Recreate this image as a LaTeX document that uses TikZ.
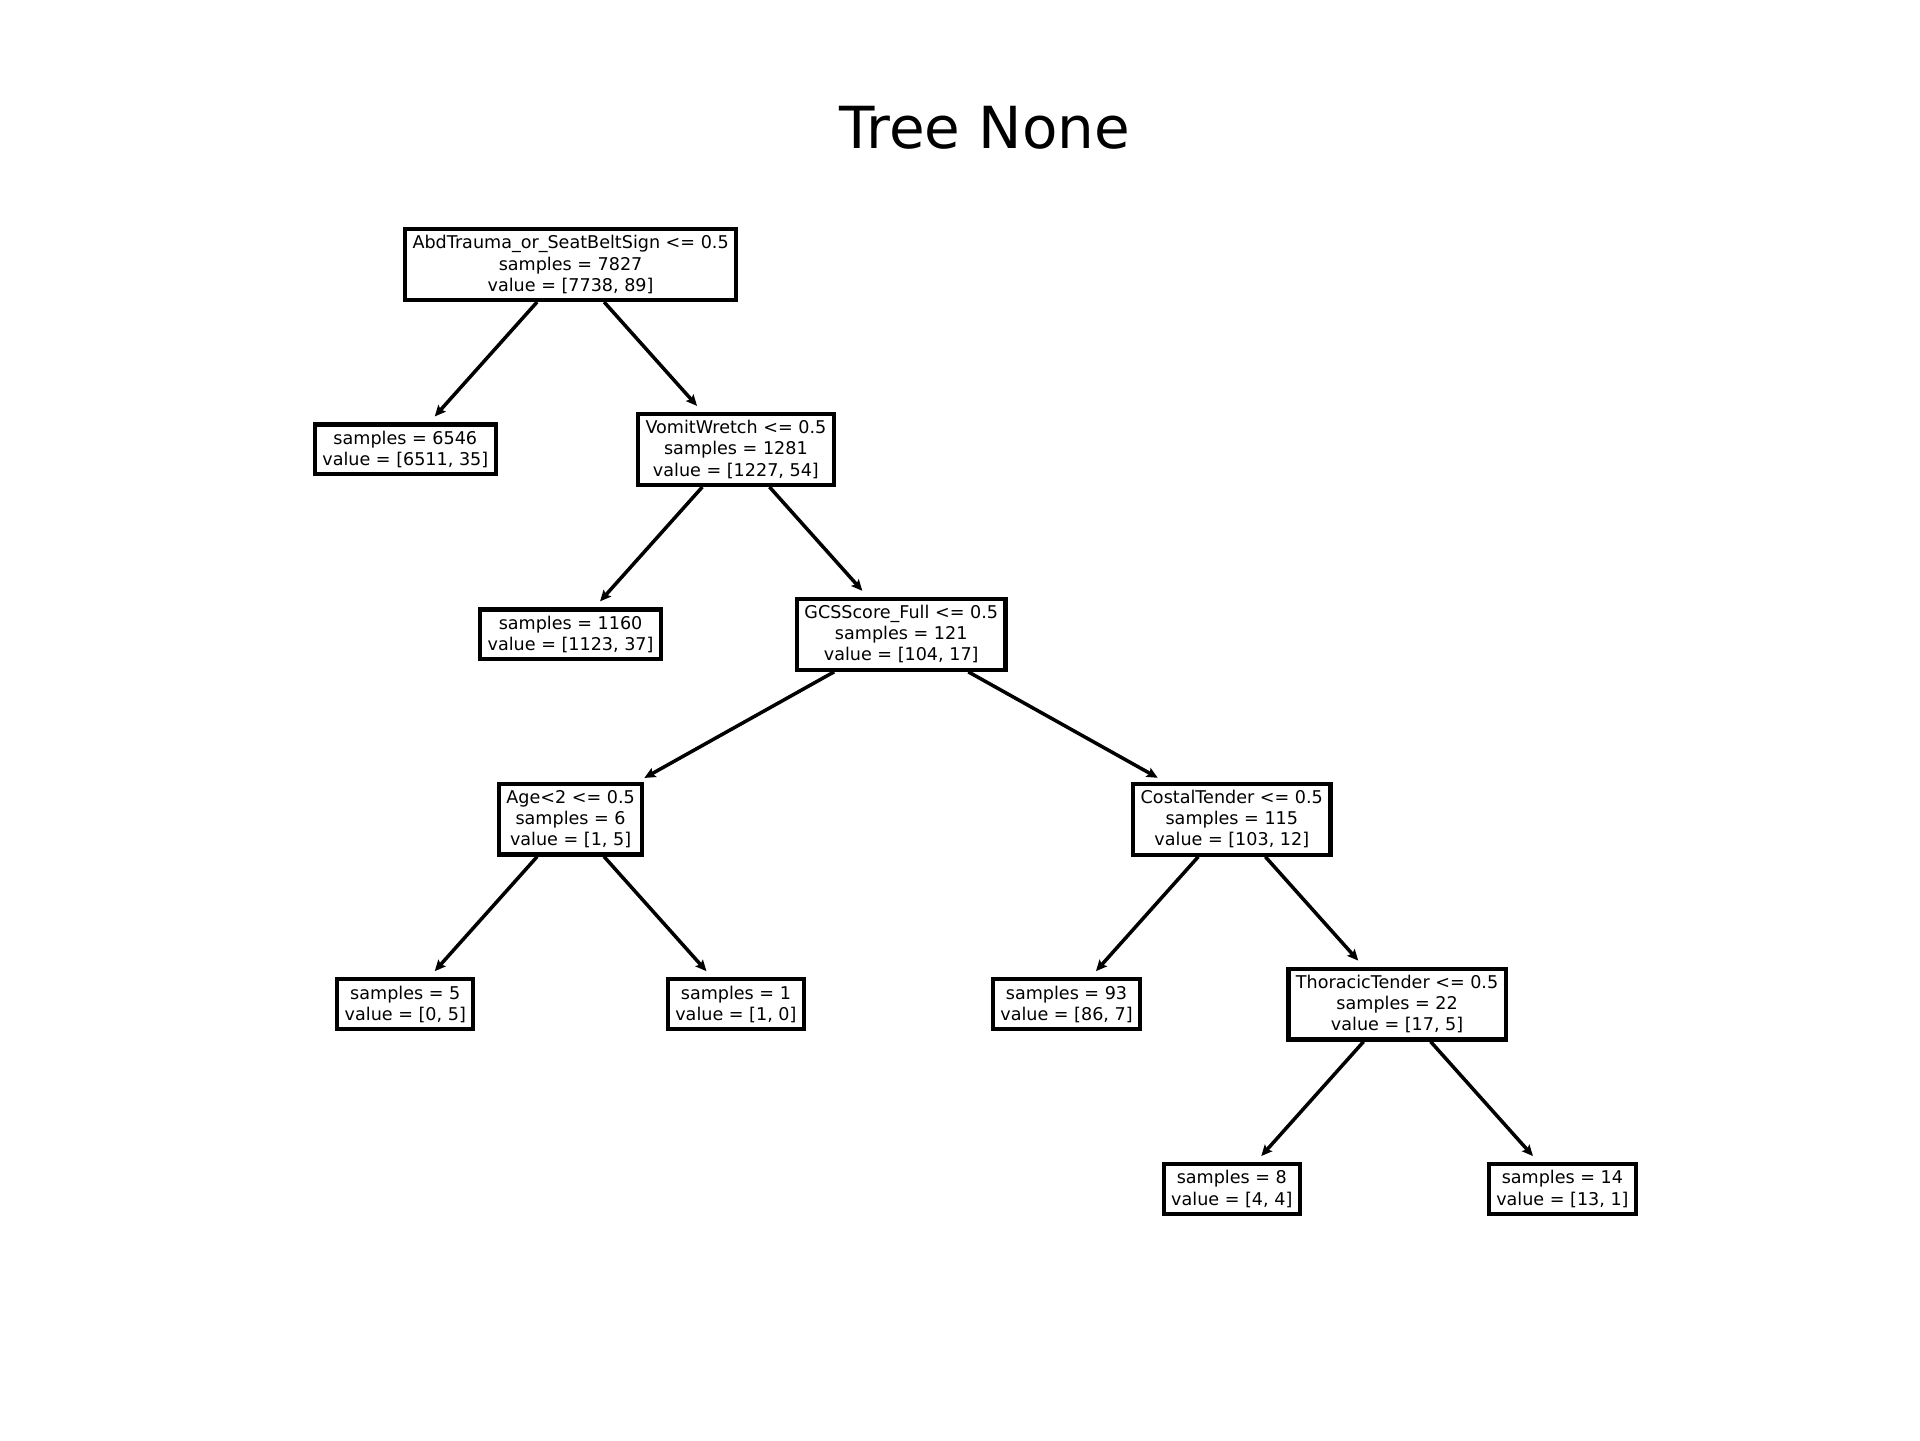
\documentclass[tikz,border=0pt]{standalone}
\usepackage{fontspec}
\setmainfont{DejaVu Sans}
\usetikzlibrary{positioning, arrows.meta}

\begin{document}
\begin{tikzpicture}[x=1.653cm, y=-1.849cm]
	\tikzset{split/.style={rectangle, draw, line width=1.2pt, fill=white, align=center,
			inner xsep=.075cm, inner ysep=.065cm, font=\fontsize{5}{6}\selectfont}}
	\tikzset{arr/.style={-{Stealth[length=.11cm, width=.1cm, inset=.02cm]}, line width=1pt, shorten >=.08cm}}
	
	\useasboundingbox[fill=white] (0cm,0cm) rectangle (19.2cm,-14.4cm);
	\begin{scope}[shift={(4.053cm,-2.645cm)}]
		\node[anchor=base, font=\fontsize{16.5}{19}\selectfont] (title) at (3.507,-0.626) {Tree None};
		
		\node[split] (root) at (1,0) {AbdTrauma\_or\_SeatBeltSign <= 0.5\\samples = 7827\\value = [7738, 89]};
		\node[split] (leaf a) at (0,1) {samples = 6546\\value = [6511, 35]};
		\node[split] (vomit) at (2,1) {VomitWretch <= 0.5\\samples = 1281\\value = [1227, 54]};
		\node[split] (leaf b) at (1,2) {samples = 1160\\value = [1123, 37]};
		\node[split] (gcs) at (3,2) {GCSScore\_Full <= 0.5\\samples = 121\\value = [104, 17]};
		\node[split] (age) at (1,3) {Age<2 <= 0.5\\samples = 6\\value = [1, 5]};
		\node[split] (costal) at (5,3) {CostalTender <= 0.5\\samples = 115\\value = [103, 12]};
		\node[split] (leaf c) at (0,4) {samples = 5\\value = [0, 5]};
		\node[split] (leaf d) at (2,4) {samples = 1\\value = [1, 0]};
		\node[split] (leaf e) at (4,4) {samples = 93\\value = [86, 7]};
		\node[split] (thoracic) at (6,4) {ThoracicTender <= 0.5\\samples = 22\\value = [17, 5]};
		\node[split] (leaf f) at (5,5) {samples = 8\\value = [4, 4]};
		\node[split] (leaf g) at (7,5) {samples = 14\\value = [13, 1]};
		
		\draw[arr] (root) -- (leaf a);
		\draw[arr] (root) -- (vomit);
		\draw[arr] (vomit) -- (leaf b);
		\draw[arr] (vomit) -- (gcs);
		\draw[arr] (gcs) -- (age);
		\draw[arr] (gcs) -- (costal);
		\draw[arr] (age) -- (leaf c);
		\draw[arr] (age) -- (leaf d);
		\draw[arr] (costal) -- (leaf e);
		\draw[arr] (costal) -- (thoracic);
		\draw[arr] (thoracic) -- (leaf f);
		\draw[arr] (thoracic) -- (leaf g);
	\end{scope}
\end{tikzpicture}
\end{document}
